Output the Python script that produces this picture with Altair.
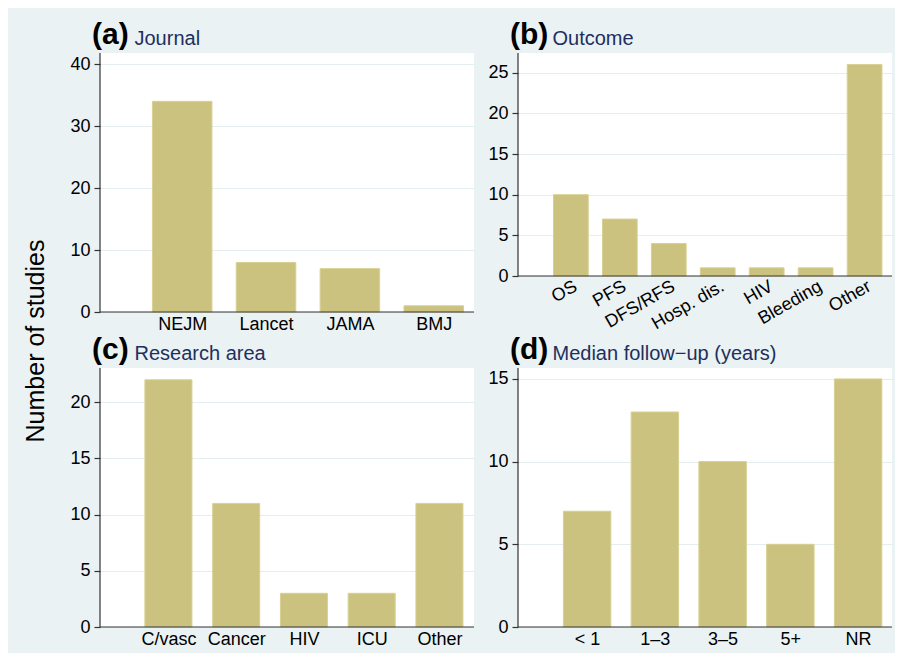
import altair as alt
import pandas as pd

# ---- data ----
journal_cats = ["NEJM", "Lancet", "JAMA", "BMJ"]
journal_vals = [34, 8, 7, 1]

outcome_cats = ["OS", "PFS", "DFS/RFS", "Hosp. dis.", "HIV", "Bleeding", "Other"]
outcome_vals = [10, 7, 4, 1, 1, 1, 26]

area_cats = ["C/vasc", "Cancer", "HIV", "ICU", "Other"]
area_vals = [22, 11, 3, 3, 11]

fu_cats = ["< 1", "1\u20133", "3\u20135", "5+", "NR"]
fu_vals = [7, 13, 10, 5, 15]

# ---- style ----
FONT = "Liberation Sans"
BG = "#eaf2f3"
BAR = "#cbc27f"
EDGE = "#d8d093"
GRID = "#e4edf0"
NAVY = "#1e2f5e"
AXIS = "#333333"
W = 374


def one(v):
    return pd.DataFrame({"t": [v]})


def panel(cats, vals, ymax, yticks, xdom, half, height, letter, title,
          rotate=False, ylab=False):
    df = pd.DataFrame({"cat": cats, "n": vals,
                       "pos": list(range(1, len(cats) + 1))})
    labels = "[" + ",".join("'" + c + "'" for c in cats) + "]"
    xaxis = dict(values=list(range(1, len(cats) + 1)),
                 labelExpr=labels + "[datum.value - 1]",
                 ticks=False, grid=False, title=None, domain=False,
                 labelFlush=False, labelOverlap=False, labelBound=False,
                 labelPadding=3)
    if rotate:
        xaxis.update(labelAngle=330, labelAlign="right", labelBaseline="top",
                     labelPadding=1)
    yscale = alt.Scale(domain=[0, ymax], nice=False)
    bars = alt.Chart(df).transform_calculate(
        x0="datum.pos - " + str(half), x1="datum.pos + " + str(half)
    ).mark_bar(color=BAR, stroke=EDGE, strokeWidth=1).encode(
        x=alt.X("x0:Q", scale=alt.Scale(domain=xdom, nice=False, zero=False),
                axis=alt.Axis(**xaxis)),
        x2="x1:Q",
        y=alt.Y("n:Q", scale=yscale,
                axis=alt.Axis(values=yticks, title=None, grid=True,
                              gridColor=GRID, tickSize=6, labelPadding=4,
                              domain=False)),
        y2=alt.datum(0),
    )
    yline = alt.Chart(one(0)).mark_rule(color=AXIS, strokeWidth=1.2).encode(
        x=alt.value(0), y=alt.value(0), y2=alt.value(height))
    xline = alt.Chart(one(0)).mark_rule(color=AXIS, strokeWidth=1.2).encode(
        y=alt.value(height), x=alt.value(0), x2=alt.value(W))
    t1 = alt.Chart(one(letter)).mark_text(
        font=FONT, fontSize=30, fontWeight="bold", color="black",
        align="left", baseline="alphabetic"
    ).encode(x=alt.value(-8), y=alt.value(-9), text="t:N")
    t2 = alt.Chart(one(title)).mark_text(
        font=FONT, fontSize=20, color=NAVY,
        align="left", baseline="alphabetic"
    ).encode(x=alt.value(34.5), y=alt.value(-8), text="t:N")
    layers = [bars, yline, xline, t1, t2]
    if ylab:
        t3 = alt.Chart(one("Number of studies")).mark_text(
            font=FONT, fontSize=25, color="black", angle=270,
            align="center", baseline="alphabetic"
        ).encode(x=alt.value(-56), y=alt.value(288), text="t:N")
        layers.append(t3)
    return alt.layer(*layers).properties(width=W, height=height)


pa = panel(journal_cats, journal_vals, 41.8, [0, 10, 20, 30, 40],
           [0.02, 4.48], 0.355, 259, "(a)", "Journal", ylab=True)
pb = panel(outcome_cats, outcome_vals, 27.42, [0, 5, 10, 15, 20, 25],
           [-0.08, 7.56], 0.355, 223, "(b)", "Outcome", rotate=True)
pc = panel(area_cats, area_vals, 23.05, [0, 5, 10, 15, 20],
           [-0.01, 5.51], 0.347, 259, "(c)", "Research area")
pd_ = panel(fu_cats, fu_vals, 15.66, [0, 5, 10, 15],
            [-0.02, 5.5], 0.35, 259, "(d)", "Median follow\u2212up (years)")

chart = alt.concat(pa, pb, pc, pd_, columns=2,
                   spacing={"row": 56, "column": 44}, bounds="flush")

chart = chart.configure(
    background=BG, font=FONT,
    padding={"left": 16, "top": 12, "right": 2, "bottom": 5},
).configure_view(strokeWidth=0, fill="white").configure_axis(
    labelFont=FONT, labelFontSize=18, labelColor="black",
    tickColor=AXIS, tickWidth=1.2,
)

chart.save("out.html", embed_options={"renderer": "svg", "actions": False})
